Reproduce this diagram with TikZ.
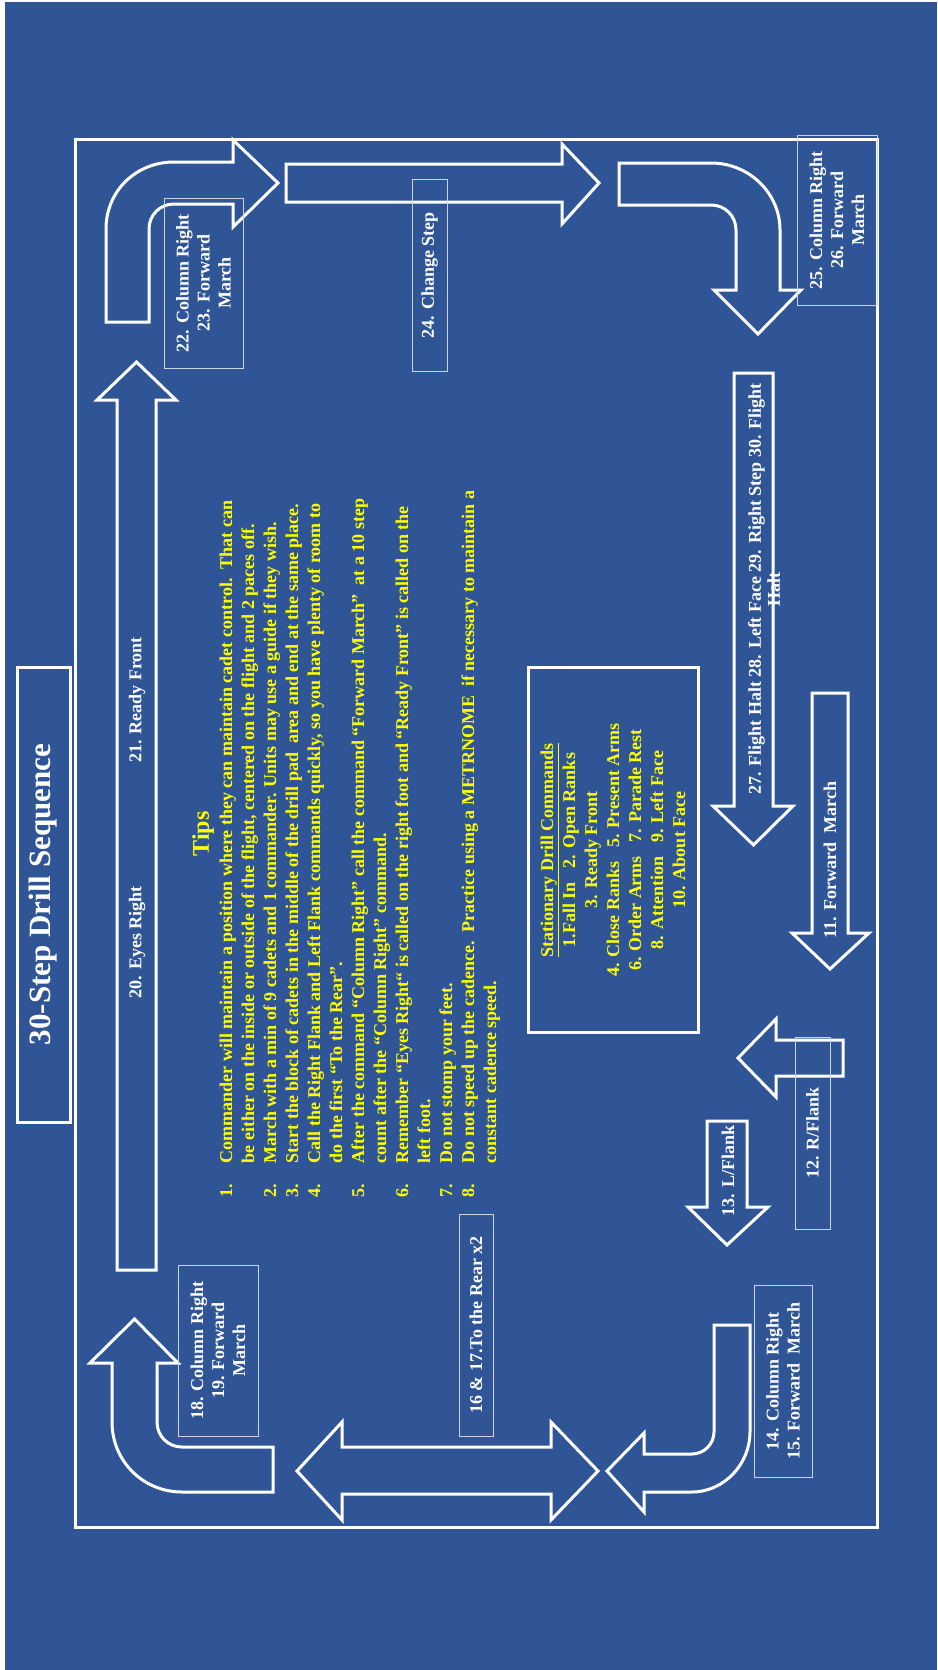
\documentclass[tikz,border=0pt]{standalone}
\usepackage{fontspec}
\setmainfont{Liberation Serif}
\definecolor{slideblue}{RGB}{47,85,151}
\definecolor{tipyellow}{RGB}{255,255,0}
\definecolor{boxline}{RGB}{205,212,228}

\begin{document}
\begin{tikzpicture}[
        x=1pt, y=-1pt,
        blockarrow/.style={draw=white, line width=3pt, line join=miter},
        outline/.style={draw=white, line width=3pt},
        lbl/.style={rotate=90, text=white, font=\bfseries\fontsize{18}{21}\selectfont, align=center, inner sep=0pt},
        lblbox/.style={lbl, draw=boxline, line width=1pt},
        tip/.style={rotate=90, text=tipyellow, font=\bfseries\fontsize{18}{22}\selectfont, inner sep=0pt}
    ]

    % Slide
    \useasboundingbox (0,0) rectangle (937,1670);
    \fill[white] (0,0) rectangle (937,1670);
    \fill[slideblue] (5,2) rectangle (937,1670);
    \draw[outline] (75,139) rectangle (877,1527);

    % Title and tips
    \node[lbl, outline, font=\bfseries\fontsize{31}{36}\selectfont, minimum width=455pt, minimum height=53pt] (title) at (43.5,894.5) {30-Step Drill Sequence};
    \node[tip, font=\bfseries\fontsize{24}{28}\selectfont] (tipshead) at (203,834) {Tips};
    \node[tip, anchor=base west] (tips) at (232,1198) {\begin{tabular}[t]{@{}l@{\hspace{21pt}}l@{}}
        1. & Commander will maintain a position where they can maintain cadet control.\ \ That can\\
           & be either on the inside or outside of the flight, centered on the flight and 2 paces off.\\
        2. & March with a min of 9 cadets and 1 commander. Units may use a guide if they wish.\\
        3. & Start the block of cadets in the middle of the drill pad\ \ area and end at the same place.\\
        4. & Call the Right Flank and Left Flank commands quickly, so you have plenty of room to\\
           & do the first “To the Rear”.\\
        5. & After the command “Column Right” call the command “Forward March”\ \ at a 10 step\\
           & count after the “Column Right” command.\\
        6. & Remember “Eyes Right“ is called on the right foot and “Ready Front” is called on the\\
           & left foot.\\
        7. & Do not stomp your feet.\\
        8. & Do not speed up the cadence.\ \ Practice using a METRNOME\ \ if necessary to maintain a\\
           & constant cadence speed.
    \end{tabular}};
    \node[tip, outline, align=center, minimum width=365pt, minimum height=170pt] (stationary) at (613,850) {\underline{Stationary Drill Commands}\\
        1.Fall In\hspace{14pt}2. Open Ranks\\
        3. Ready Front\\
        4. Close Ranks\hspace{14pt}5. Present Arms\\
        6. Order Arms\hspace{14pt}7. Parade Rest\\
        8. Attention\hspace{14pt}9. Left Face\\
        10. About Face};

    % Block arrows
    \draw[blockarrow] (117,1270) -- (117,400) -- (97,400) -- (136.5,362) -- (176,400) -- (156,400) -- (156,1270) -- cycle;
    \draw[blockarrow] (106,322) -- (106,229) .. controls (106,191) and (136,162) .. (174,162) -- (233,162) -- (233,140) -- (278,183) -- (233,227) -- (233,204) -- (174,204) .. controls (160,204) and (149,215) .. (149,229) -- (149,322) -- cycle;
    \draw[blockarrow] (286,164) -- (562,164) -- (562,144) -- (599,183) -- (562,224) -- (562,202) -- (286,202) -- cycle;
    \draw[blockarrow] (619,163) -- (711,163) .. controls (749,163) and (780,193) .. (780,230) -- (780,290) -- (801,290) -- (758,334) -- (714,290) -- (736,290) -- (736,230) .. controls (736,216) and (725,205) .. (711,205) -- (619,205) -- cycle;
    \draw[blockarrow] (734,373) -- (773,373) -- (773,806) -- (793,806) -- (753.5,845) -- (713,806) -- (734,806) -- cycle;
    \draw[blockarrow] (812,693) -- (848,693) -- (848,933) -- (869,933) -- (830,969) -- (792,933) -- (812,933) -- cycle;
    \draw[blockarrow] (843,1040) -- (776,1040) -- (776,1019) -- (738,1058) -- (776,1097) -- (776,1076) -- (843,1076) -- cycle;
    \draw[blockarrow] (707,1121) -- (747,1121) -- (747,1207) -- (768,1207) -- (727,1245) -- (688,1207) -- (707,1207) -- cycle;
    \draw[blockarrow] (714,1325) -- (750,1325) -- (750,1432) .. controls (750,1464) and (724,1492) .. (692,1492) -- (644,1492) -- (644,1512) -- (607,1471) -- (644,1433) -- (644,1454) -- (692,1454) .. controls (704,1454) and (714,1444) .. (714,1432) -- cycle;
    \draw[blockarrow] (297,1471) -- (342,1422) -- (342,1447) -- (551,1447) -- (551,1422) -- (598,1471) -- (551,1520) -- (551,1494) -- (342,1494) -- (342,1520) -- cycle;
    \draw[blockarrow] (273,1447) -- (182,1447) .. controls (168,1447) and (157,1436) .. (157,1422) -- (157,1363) -- (178,1363) -- (134.5,1319) -- (90,1363) -- (112,1363) -- (112,1422) .. controls (112,1461) and (143,1492) .. (182,1492) -- (273,1492) -- cycle;

    % Step labels
    \node[lbl] (eyes) at (137,942) {20. Eyes Right};
    \node[lbl] (ready) at (137,700) {21. Ready Front};
    \node[lblbox, minimum width=170pt, minimum height=79pt] (col22) at (203.5,283) {22. Column Right\\23. Forward\\March};
    \node[lblbox, minimum width=192pt, minimum height=35pt] (change) at (429.5,275) {24. Change Step};
    \node[lblbox, minimum width=170pt, minimum height=80pt] (col25) at (837,220) {25. Column Right\\26. Forward\\March};
    \node[lbl, font=\bfseries\fontsize{18}{19}\selectfont] (halt) at (764,589) {27. Flight Halt 28. Left Face 29. Right Step 30. Flight\\Halt};
    \node[lbl] (fwd) at (830,860) {11. Forward\ \ March};
    \node[lblbox, minimum width=192pt, minimum height=35pt] (rflank) at (812.5,1133) {12. R/Flank};
    \node[lbl] (lflank) at (728,1171) {13. L/Flank};
    \node[lblbox, minimum width=192pt, minimum height=58pt] (col14) at (783,1381) {14. Column Right\\15. Forward\ \ March};
    \node[lblbox, minimum width=222pt, minimum height=34pt] (rear) at (476,1325) {16 \& 17.To the Rear x2};
    \node[lblbox, minimum width=171pt, minimum height=80pt] (col18) at (218,1350.5) {18. Column Right\\19. Forward\\March};

\end{tikzpicture}
\end{document}
